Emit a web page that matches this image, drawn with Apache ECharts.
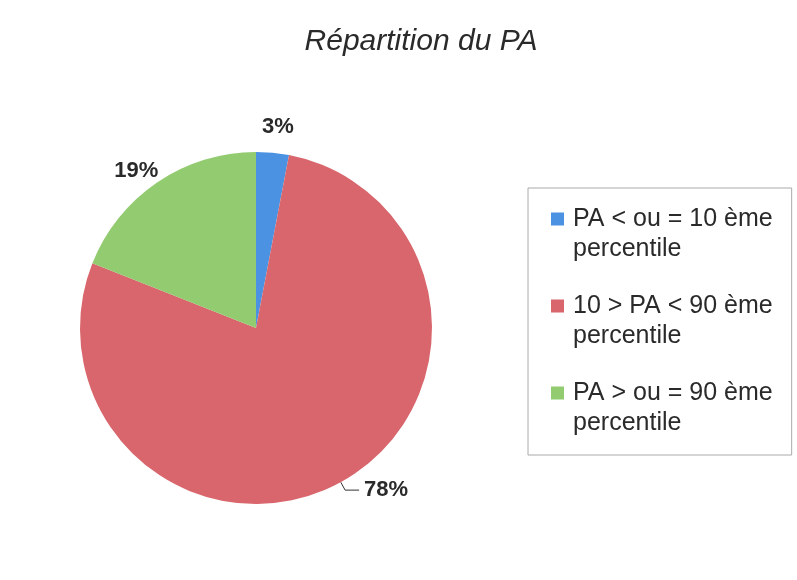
<!DOCTYPE html>
<html lang="fr">
<head>
<meta charset="UTF-8">
<title>Répartition du PA</title>
<script src="https://cdn.jsdelivr.net/npm/echarts@6/dist/echarts.min.js"></script>
<style>
    html, body { margin: 0; padding: 0; background: #fff; }
    #chart { width: 797px; height: 580px; }
</style>
</head>
<body>
<div id="chart"></div>
<script>
    var categories = ['PA < ou = 10 ème\npercentile', '10 > PA < 90 ème\npercentile', 'PA > ou = 90 ème\npercentile'];
    var values = [3, 78, 19];
    var colors = ['#4b92e2', '#d8666c', '#92cb70'];

    var myChart = echarts.init(document.getElementById('chart'));

    // icone carrée calée sur la 1re ligne du texte de légende
    var legendIcon = 'path://M0,0h13 M0,8.5h13v13h-13z M0,60h13';

    // réglage des étiquettes (seul 78% a un trait de rappel)
    var labelTweaks = [
        { line: { show: false, length: 26, length2: 0 }, dist: -13 },
        { line: { show: true, length: 9, length2: 14 }, dist: 5 },
        { line: { show: false, length: 14, length2: 0 }, dist: -9 }
    ];

    var data = categories.map(function (name, i) {
        return {
            name: name,
            value: values[i],
            itemStyle: { color: colors[i] },
            labelLine: labelTweaks[i].line,
            label: { distanceToLabelLine: labelTweaks[i].dist }
        };
    });

    var option = {
        backgroundColor: '#fff',
        title: {
            text: 'Répartition du PA',
            left: 416,
            top: 22,
            textAlign: 'center',
            textStyle: {
                fontFamily: 'Liberation Sans, Arial, sans-serif',
                fontStyle: 'italic',
                fontWeight: 'normal',
                fontSize: 30,
                color: '#2a2a2a'
            }
        },
        legend: {
            orient: 'vertical',
            left: 528,
            top: 188,
            padding: [16, 19, 17, 23],
            itemGap: 27,
            itemWidth: 13,
            itemHeight: 60,
            icon: legendIcon,
            borderColor: '#aaa',
            borderWidth: 1,
            selectedMode: false,
            data: categories,
            textStyle: {
                fontFamily: 'Liberation Sans, Arial, sans-serif',
                fontSize: 25,
                lineHeight: 30,
                color: '#2a2a2a',
                padding: [0, 0, 0, 4]
            }
        },
        series: [{
            type: 'pie',
            center: [256, 328],
            radius: 176,
            startAngle: 90,
            clockwise: true,
            silent: true,
            avoidLabelOverlap: false,
            label: {
                show: true,
                position: 'outside',
                formatter: '{c}%',
                fontFamily: 'Liberation Sans, Arial, sans-serif',
                fontWeight: 'bold',
                fontSize: 22,
                color: '#2a2a2a'
            },
            labelLine: {
                lineStyle: { color: '#333', width: 1 }
            },
            data: data
        }]
    };
    myChart.setOption(option);
</script>
</body>
</html>
